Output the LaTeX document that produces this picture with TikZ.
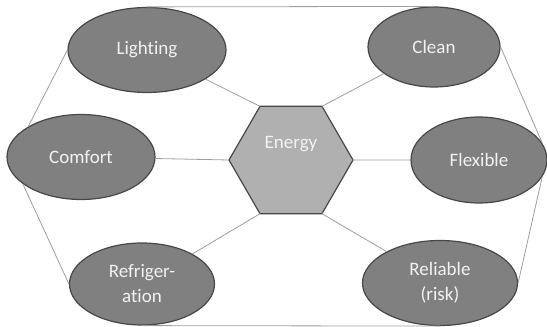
\documentclass[tikz,border=0pt]{standalone}
\usepackage{fontspec}
\setmainfont{Carlito}[Ligatures=NoCommon]
\usetikzlibrary{shapes.geometric}
\tikzset{
  every node/.style={font=\fontsize{19}{25}\selectfont, text=white!95!black},
  blob/.style={ellipse, draw=black!72, line width=1.2pt, fill=black!50, align=center},
  hub/.style={regular polygon, regular polygon sides=6, minimum size=124pt, outer sep=0pt,
    draw=black!72, line width=1.2pt, fill=black!31, text height=9pt, text depth=31pt},
  link/.style={draw=black!38, line width=0.8pt},
}

\begin{document}
\begin{tikzpicture}
  \useasboundingbox (0,0) rectangle (547pt,327pt);

  % centre
  \node[hub] (energy) at (291pt,167pt) {Energy};

  % needs
  \node[blob, minimum width=158pt, minimum height=85pt] (light) at (147pt,277pt) {Lighting};
  \node[blob, minimum width=148pt, minimum height=85pt] (comfort) at (81pt,170pt) {Comfort};
  \node[blob, minimum width=145pt, minimum height=82pt] (refrig) at (142pt,43pt) {Refriger-\\ation};
  \node[blob, minimum width=132pt, minimum height=80pt] (clean) at (434pt,280pt) {Clean};
  \node[blob, minimum width=136pt, minimum height=86pt] (flex) at (479pt,167pt) {Flexible};
  \node[blob, minimum width=155pt, minimum height=85pt] (reliable) at (440pt,44pt) {Reliable\\(risk)};

  % spokes
  \draw[link] (energy.120) -- (light)
    (energy.180) -- (comfort)
    (energy.240) -- (refrig)
    (energy.60) -- (clean)
    (energy.0) -- (flex)
    (energy.300) -- (reliable);

  % outer ring
  \draw[link] (light.north) -- (clean.north)
    (clean.east) -- (flex.15)
    (flex.-15) -- (reliable.east)
    (reliable.south) -- (refrig.south)
    (refrig.west) -- (comfort.205)
    (comfort.150) -- (light.west);
\end{tikzpicture}
\end{document}
